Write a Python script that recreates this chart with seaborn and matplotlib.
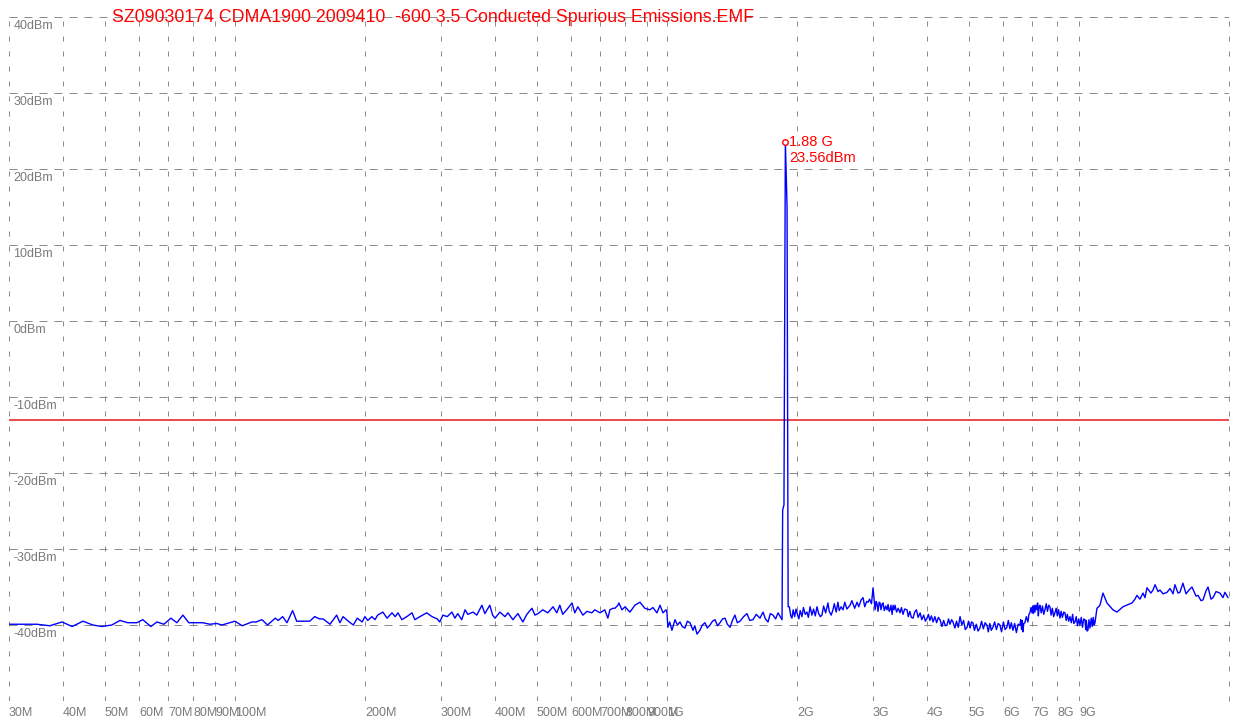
import numpy as np
import pandas as pd
import matplotlib
matplotlib.use('Agg')
import matplotlib.pyplot as plt
import matplotlib.transforms as mtransforms
import seaborn as sns

# trace readings: frequency in MHz, level in dBm
freq_low = [30, 34.8, 37.3, 39.8, 42, 44.5, 46.9, 49.2, 51.9, 54.2, 56.5, 59.3, 61.2, 63.9,
            66, 68.5, 71.1, 73.4, 75.8, 78.2, 84.3, 87.5, 90.8, 93.3, 100, 104, 109.5, 112,
            115.5, 119, 124, 126, 129, 132, 136, 139, 149, 153, 157, 160, 166, 172, 175, 178,
            183, 188, 192, 197]
level_low = [-39.9, -39.9, -40.1, -39.6, -40.2, -39.5, -40.0, -40.2, -40.0, -39.4, -39.7, -39.7,
             -39.3, -40.2, -39.6, -39.9, -39.1, -39.7, -38.7, -39.7, -39.7, -39.9, -39.8, -40.0,
             -39.5, -40.1, -39.6, -39.6, -39.3, -40.0, -39.1, -39.4, -38.9, -39.7, -38.1, -39.5,
             -39.5, -38.9, -39.2, -39.2, -39.9, -38.7, -39.7, -38.9, -39.5, -40.0, -39.1, -39.6]

freq_mid = [200, 203, 207.5, 211, 214, 220, 225, 231, 235, 238.5, 243.5, 250, 257, 261, 268,
            278, 286, 294, 298, 303, 310, 318, 323, 328, 335, 341, 346, 356, 363, 373, 379,
            389, 395, 400, 410.6, 422, 428.5, 440, 452, 464, 474, 487, 495, 503, 516, 530, 545,
            556, 565, 574, 590, 603, 612, 622, 639, 653, 670, 681, 700, 718, 730, 738, 750, 758,
            770, 774, 787, 800, 821, 843, 866, 889, 913, 928, 948, 964, 979, 995, 1000]
level_mid = [-38.9, -39.4, -38.9, -39.3, -38.7, -38.3, -39.1, -38.4, -38.9, -38.4, -39.3, -38.9,
             -38.4, -39.3, -38.9, -38.4, -38.9, -39.2, -39.6, -38.7, -38.9, -38.3, -39.1, -38.5,
             -39.3, -38.0, -38.6, -38.3, -38.7, -37.4, -38.5, -37.4, -38.7, -39.1, -38.3, -38.9,
             -38.4, -39.3, -38.5, -39.6, -38.6, -37.8, -38.7, -38.5, -38.0, -38.4, -37.6, -38.4,
             -37.4, -38.6, -37.8, -37.1, -38.4, -37.6, -38.7, -38.2, -38.4, -38.0, -38.4, -38.0,
             -39.1, -38.0, -37.8, -37.8, -37.4, -37.1, -38.0, -37.6, -38.3, -37.4, -37.0, -37.8,
             -38.0, -37.7, -38.4, -37.4, -38.4, -38.0, -38.3]

freq_gap = [1005, 1015, 1027, 1044, 1058, 1072, 1085, 1101, 1115, 1131,
            1149, 1160, 1174, 1192, 1208, 1225, 1240, 1258, 1275, 1292,
            1310, 1327, 1345, 1363, 1380, 1400, 1420, 1437, 1455, 1476,
            1505, 1532, 1555, 1582, 1610, 1642, 1669, 1690, 1714, 1735,
            1760, 1785, 1808, 1830, 1847]
level_gap = [-40.3, -39.6, -40.7, -39.3, -40.0, -39.6, -40.2, -40.4, -39.5, -39.7,
             -40.7, -40.1, -41.2, -40.7, -40.0, -39.7, -40.4, -40.0, -39.5, -39.3,
             -40.1, -39.7, -39.2, -39.1, -39.9, -40.3, -39.3, -38.7, -39.7, -39.5,
             -38.9, -38.5, -39.4, -39.3, -38.6, -39.1, -38.3, -39.2, -39.6, -38.5,
             -38.7, -39.2, -38.4, -38.9, -39.3]

freq_peak = [1853, 1866, 1880, 1897, 1908]
level_peak = [-24.9, -24.2, 23.56, 15.0, -37.6]

freq_high = [1920, 1935, 1947, 1960, 1975, 1990, 2005, 2020, 2035, 2054,
             2070, 2090, 2109, 2125, 2145, 2166, 2185, 2205, 2225, 2245,
             2265, 2285, 2305, 2330, 2359, 2375, 2400, 2423, 2440, 2465,
             2488, 2505, 2530, 2556, 2580, 2610, 2654, 2680, 2720, 2755,
             2780, 2815, 2844, 2870, 2900, 2921, 2945, 2975, 3000, 3015,
             3032, 3050, 3064, 3080, 3100, 3114, 3130, 3150, 3164, 3185,
             3210, 3232, 3250, 3270, 3285, 3300, 3320, 3338, 3355, 3373,
             3400, 3430, 3464, 3490, 3520, 3550, 3595, 3620, 3650, 3680,
             3713, 3745, 3780, 3815, 3855, 3890, 3930, 3965, 4000, 4030,
             4060, 4095, 4130, 4170, 4210, 4250, 4287, 4330, 4370, 4410,
             4450, 4485, 4520, 4560, 4594, 4640, 4680, 4725, 4770, 4815,
             4860, 4905, 4951, 4990, 5030, 5070, 5108, 5150, 5200, 5250,
             5302, 5350, 5400, 5450, 5504, 5545, 5590, 5635, 5683, 5735,
             5790, 5845, 5898, 5950, 6010, 6065, 6122, 6170, 6220, 6270,
             6322, 6380, 6440, 6500, 6562, 6590, 6620, 6645, 6667, 6700,
             6739, 6790, 6849, 6885, 6922, 6960, 7000, 7025, 7050, 7080,
             7109, 7145, 7185, 7210, 7240, 7270, 7301, 7350, 7400, 7450,
             7498, 7550, 7600, 7650, 7701, 7750, 7800, 7855, 7909, 7960,
             8010, 8065, 8125, 8175, 8230, 8290, 8344, 8400, 8450, 8510,
             8570, 8630, 8690, 8745, 8801, 8860, 8920, 8980, 9038, 9100,
             9160, 9220, 9283, 9320, 9350, 9390, 9432, 9480, 9530, 9600,
             9650, 9700, 9750, 9791]
level_high = [-37.6, -38.8, -39.1, -38.0, -38.9, -37.9, -38.6, -39.2, -38.1, -38.9,
              -37.7, -38.6, -38.3, -39.0, -37.6, -38.7, -37.9, -38.8, -37.6, -38.5,
              -38.9, -38.7, -37.5, -38.4, -37.1, -38.2, -38.7, -38.0, -37.2, -38.3,
              -37.0, -38.1, -37.6, -38.0, -37.0, -37.9, -37.4, -36.8, -37.8, -37.0,
              -37.6, -36.7, -36.4, -37.6, -36.9, -37.0, -36.6, -37.2, -35.1, -36.4,
              -38.0, -36.9, -37.2, -38.2, -37.0, -37.1, -38.0, -37.2, -37.1, -38.1,
              -37.5, -38.0, -37.3, -38.2, -38.0, -37.4, -38.6, -37.4, -38.0, -37.4,
              -38.3, -37.8, -38.4, -37.7, -38.6, -37.9, -38.0, -38.9, -38.2, -39.0,
              -39.1, -38.3, -38.0, -39.0, -38.4, -39.3, -38.7, -39.5, -39.1, -38.6,
              -39.4, -38.8, -39.6, -38.9, -39.7, -39.0, -39.3, -40.2, -39.4, -40.1,
              -40.0, -39.2, -39.9, -39.3, -39.6, -40.4, -39.5, -40.3, -38.9, -40.0,
              -39.4, -40.6, -40.3, -39.5, -40.4, -39.6, -39.7, -40.7, -39.9, -40.8,
              -40.4, -39.5, -40.5, -39.7, -40.0, -40.9, -39.8, -40.7, -40.3, -39.6,
              -40.6, -39.8, -40.0, -40.9, -39.6, -40.6, -40.3, -39.4, -40.5, -39.7,
              -40.7, -39.8, -41.0, -39.9, -40.0, -39.3, -40.6, -39.4, -40.9, -39.8,
              -39.7, -38.9, -39.6, -38.6, -38.4, -37.7, -38.4, -37.5, -38.5, -37.4,
              -38.3, -37.4, -38.0, -37.1, -38.8, -37.6, -37.4, -38.4, -37.5, -38.6,
              -38.0, -37.2, -38.2, -37.4, -37.6, -38.7, -37.8, -38.9, -38.4, -37.8,
              -38.8, -38.0, -39.1, -38.2, -39.0, -38.3, -38.4, -39.4, -38.6, -39.5,
              -38.9, -39.7, -38.6, -39.8, -39.6, -38.9, -40.1, -39.2, -40.0, -39.0,
              -40.3, -39.2, -39.3, -40.6, -39.4, -40.8, -40.7, -39.3, -40.4, -39.1,
              -40.2, -39.0, -40.0, -39.7]

freq_top = [9850, 9894, 10054, 10216, 10436, 10775, 11008, 11365, 11924, 12115,
            12247, 12442, 12646, 12779, 12919, 13188, 13339, 13484, 13701, 13844,
            14071, 14374, 14606, 14842, 14993, 15243, 15398, 15646, 15907, 16160,
            16419, 16775, 16955, 17229, 17413, 17695, 17884, 18173, 18367, 18664,
            19061, 19365, 19571, 19894]
level_top = [-38.6, -37.8, -37.4, -35.8, -37.1, -38.0, -38.3, -37.6, -37.1, -36.6,
             -36.1, -36.6, -35.8, -36.4, -35.1, -35.8, -35.4, -34.7, -35.6, -35.4,
             -35.9, -35.7, -35.2, -35.9, -34.7, -35.8, -35.7, -34.5, -35.9, -35.4,
             -35.0, -36.2, -36.1, -36.8, -36.7, -35.5, -35.0, -36.6, -36.4, -35.6,
             -35.8, -36.4, -35.7, -36.4]

limit_dbm = -13
peak_freq = 1880
peak_dbm = 23.56

title = "SZ09030174 CDMA1900 2009410  -600 3.5 Conducted Spurious Emissions.EMF"
x_ticks = [30, 40, 50, 60, 70, 80, 90, 100, 200, 300, 400, 500, 600, 700, 800, 900,
           1000, 2000, 3000, 4000, 5000, 6000, 7000, 8000, 9000]
x_labels = ['30M', '40M', '50M', '60M', '70M', '80M', '90M', '100M', '200M', '300M', '400M',
            '500M', '600M', '700M', '800M', '900M', '1G', '2G', '3G', '4G', '5G', '6G', '7G',
            '8G', '9G']
y_ticks = [40, 30, 20, 10, 0, -10, -20, -30, -40]

df = pd.DataFrame({
    'freq': freq_low + freq_mid + freq_gap + freq_peak + freq_high + freq_top,
    'level': level_low + level_mid + level_gap + level_peak + level_high + level_top,
})

sns.set_style('white')
plt.rcParams['font.family'] = ['Liberation Sans', 'DejaVu Sans']

fig = plt.figure(figsize=(12.36, 7.24), dpi=100)
ax = fig.add_axes([9 / 1236, 23 / 724, 1220 / 1236, 684 / 724])
ax.set_xscale('log')
ax.set_xlim(30, 20000)
ax.set_ylim(-50, 40)

grey = '#8c8c8c'
ax.set_xticks(x_ticks)
ax.set_xticklabels(x_labels)
ax.set_xticks([], minor=True)
ax.set_yticks(y_ticks + [-50])
ax.set_yticklabels([])
ax.xaxis.grid(True, color=grey, lw=0.72, linestyle=(0, (5, 10)))
ax.yaxis.grid(True, color=grey, lw=0.72, linestyle=(0, (8, 7)))
ax.axvline(20000, color=grey, lw=0.72, linestyle=(0, (5, 10)), clip_on=False)
ax.tick_params(axis='x', length=0, pad=4, labelsize=9, labelcolor='#7a7a7a')
ax.tick_params(axis='y', length=0)
for lab in ax.get_xticklabels():
    lab.set_horizontalalignment('left')
for s in ax.spines.values():
    s.set_visible(False)

trans = mtransforms.blended_transform_factory(ax.transAxes, ax.transData)
for v in y_ticks:
    ax.text(0.0035, v - 0.45, f'{v}dBm', transform=trans, ha='left', va='top',
            fontsize=9, color='#7a7a7a')

ax.axhline(limit_dbm, color='#e8161c', lw=1.1)
sns.lineplot(data=df, x='freq', y='level', ax=ax, sort=False, estimator=None,
             color='#0000ff', lw=1.0)
ax.plot([peak_freq], [peak_dbm], 'o', ms=4, mfc='white', mec='#ff0000', mew=1)
ax.annotate(f'{peak_freq / 1000:.2f} G', (peak_freq, peak_dbm), xytext=(2.5, 0),
            textcoords='offset points', ha='left', va='center', color='#ff0000', fontsize=10.5)
ax.annotate(f'{peak_dbm:.2f}dBm', (peak_freq, peak_dbm), xytext=(2.5, -11.5),
            textcoords='offset points', ha='left', va='center', color='#ff0000', fontsize=10.5)

ttl = ax.text(103 / 1220, 1.0, title, transform=ax.transAxes, ha='left', va='center',
              color='#ff0000', fontsize=17)
# fit title to the width it takes in the reference (~643 px)
fig.canvas.draw()
w = ttl.get_window_extent().width
ttl.set_fontsize(17 * 643 / w)
ax.set_xlabel('')
ax.set_ylabel('')

fig.savefig('out.png', dpi=100, facecolor='white')
